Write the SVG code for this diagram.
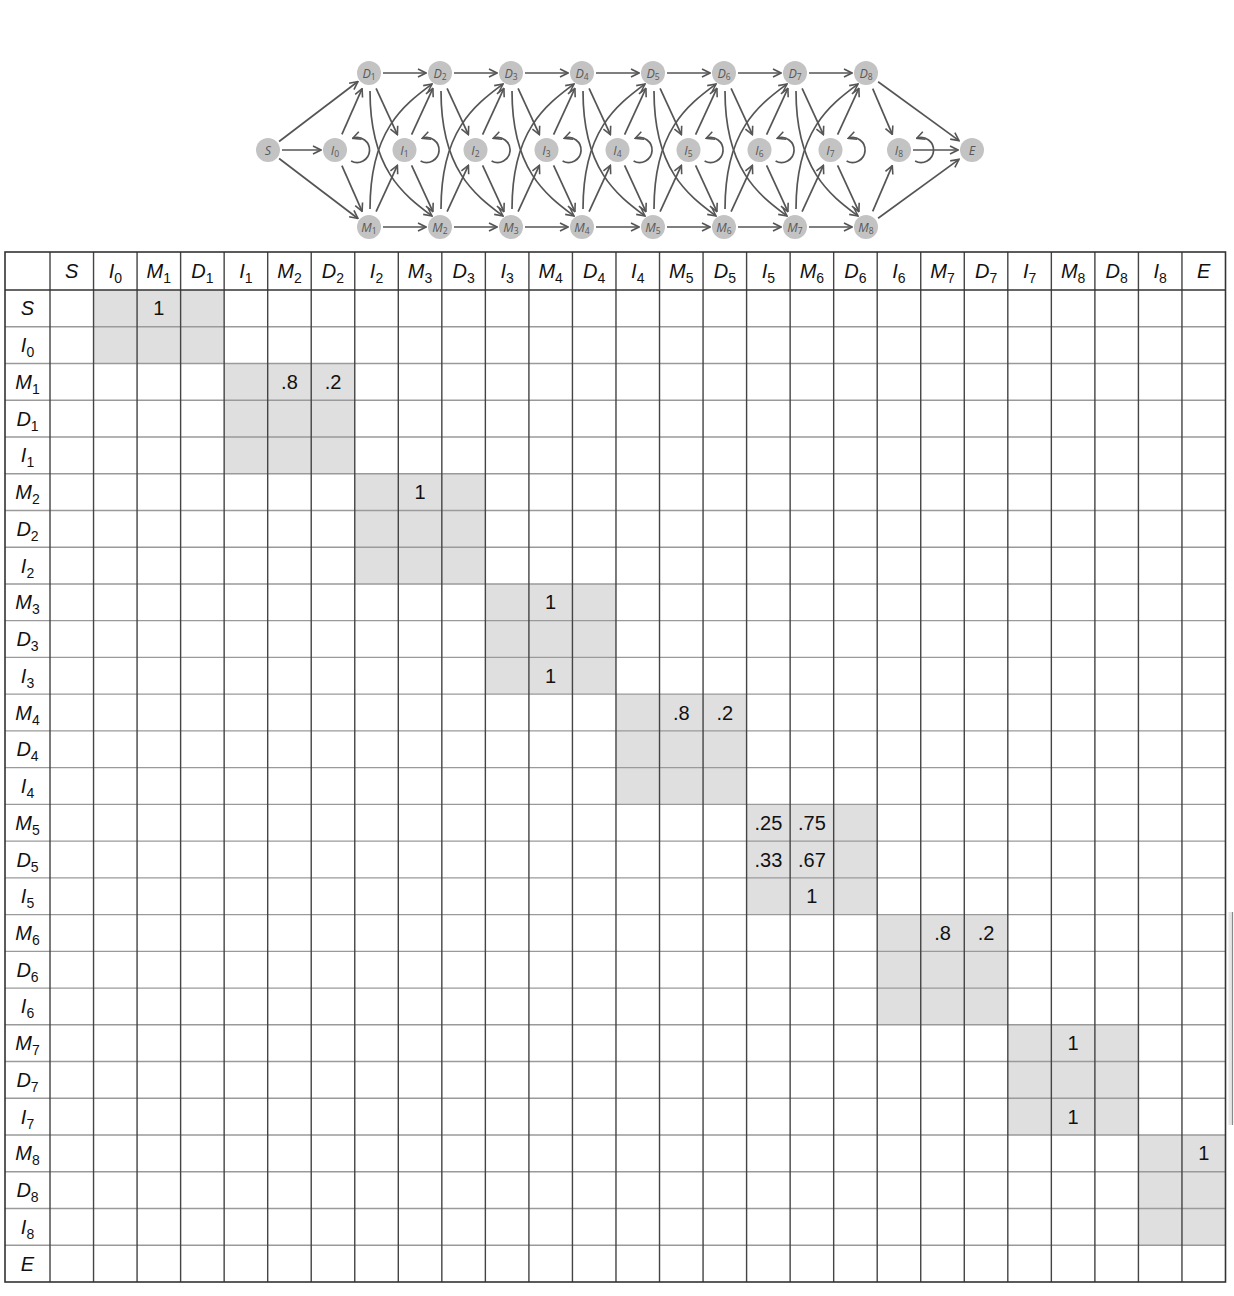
<svg xmlns="http://www.w3.org/2000/svg" width="1234" height="1296" viewBox="0 0 1234 1296">
<defs>
<marker id="ah" viewBox="0 0 10 10" refX="9" refY="5" markerWidth="10" markerHeight="10" markerUnits="userSpaceOnUse" orient="auto"><path d="M1,1 L9,5 L1,9" fill="none" stroke="#555" stroke-width="1.6"/></marker>
</defs>
<style>
.node circle{fill:#c3c3c3;stroke:none}
.node text{font-family:"Open Sans","Liberation Sans",sans-serif;font-style:italic;font-size:12.5px;fill:#585858;text-anchor:middle}
.node text tspan{font-size:8.5px;font-style:normal}
#connectors path{fill:none;stroke:#555;stroke-width:1.7;marker-end:url(#ah)}
.t{font-family:"Liberation Sans",Arial,sans-serif;font-size:20px;fill:#111;text-anchor:middle}
.lab{font-style:italic}
.s{font-size:14px;font-style:normal}
.shade{fill:#dfdfdf}
.vl{stroke:#444;stroke-width:1.4;fill:none}
.hl{stroke:#9a9a9a;stroke-width:1.4;fill:none}
.bd{stroke:#333;stroke-width:1.6;fill:none}
</style>
<rect width="1234" height="1296" fill="#fff"/>

<g id="connectors">
  <path d="M282,150H321"/>
  <path d="M279.1,141.5L357.9,81.5"/>
  <path d="M279.1,158.5L357.9,218.5"/>
  <path d="M341.9,134.4L362.1,88.6"/>
  <path d="M341.9,165.6L362.1,211.4"/>
  <path d="M351.1,161A12.5,12.5 0 1 0 352.7,138.3"/>
  <g transform="translate(369,0)">
    <path d="M14,73H57"/><path d="M14,227H57"/>
    <path d="M7.1,88.4L28.4,134.6"/><path d="M7.1,211.6L28.4,165.4"/>
    <path d="M42.6,134.6L63.9,88.4"/><path d="M42.6,165.4L63.9,211.6"/>
    <path d="M51.6,161A12.5,12.5 0 1 0 53.2,138.3"/>
    <path d="M1,91C1,170 35,195 63,216"/><path d="M1,209C1,130 35,105 63,84"/>
  </g>
  <g transform="translate(440,0)">
    <path d="M14,73H57"/><path d="M14,227H57"/>
    <path d="M7.1,88.4L28.4,134.6"/><path d="M7.1,211.6L28.4,165.4"/>
    <path d="M42.6,134.6L63.9,88.4"/><path d="M42.6,165.4L63.9,211.6"/>
    <path d="M51.6,161A12.5,12.5 0 1 0 53.2,138.3"/>
    <path d="M1,91C1,170 35,195 63,216"/><path d="M1,209C1,130 35,105 63,84"/>
  </g>
  <g transform="translate(511,0)">
    <path d="M14,73H57"/><path d="M14,227H57"/>
    <path d="M7.1,88.4L28.4,134.6"/><path d="M7.1,211.6L28.4,165.4"/>
    <path d="M42.6,134.6L63.9,88.4"/><path d="M42.6,165.4L63.9,211.6"/>
    <path d="M51.6,161A12.5,12.5 0 1 0 53.2,138.3"/>
    <path d="M1,91C1,170 35,195 63,216"/><path d="M1,209C1,130 35,105 63,84"/>
  </g>
  <g transform="translate(582,0)">
    <path d="M14,73H57"/><path d="M14,227H57"/>
    <path d="M7.1,88.4L28.4,134.6"/><path d="M7.1,211.6L28.4,165.4"/>
    <path d="M42.6,134.6L63.9,88.4"/><path d="M42.6,165.4L63.9,211.6"/>
    <path d="M51.6,161A12.5,12.5 0 1 0 53.2,138.3"/>
    <path d="M1,91C1,170 35,195 63,216"/><path d="M1,209C1,130 35,105 63,84"/>
  </g>
  <g transform="translate(653,0)">
    <path d="M14,73H57"/><path d="M14,227H57"/>
    <path d="M7.1,88.4L28.4,134.6"/><path d="M7.1,211.6L28.4,165.4"/>
    <path d="M42.6,134.6L63.9,88.4"/><path d="M42.6,165.4L63.9,211.6"/>
    <path d="M51.6,161A12.5,12.5 0 1 0 53.2,138.3"/>
    <path d="M1,91C1,170 35,195 63,216"/><path d="M1,209C1,130 35,105 63,84"/>
  </g>
  <g transform="translate(724,0)">
    <path d="M14,73H57"/><path d="M14,227H57"/>
    <path d="M7.1,88.4L28.4,134.6"/><path d="M7.1,211.6L28.4,165.4"/>
    <path d="M42.6,134.6L63.9,88.4"/><path d="M42.6,165.4L63.9,211.6"/>
    <path d="M51.6,161A12.5,12.5 0 1 0 53.2,138.3"/>
    <path d="M1,91C1,170 35,195 63,216"/><path d="M1,209C1,130 35,105 63,84"/>
  </g>
  <g transform="translate(795,0)">
    <path d="M14,73H57"/><path d="M14,227H57"/>
    <path d="M7.1,88.4L28.4,134.6"/><path d="M7.1,211.6L28.4,165.4"/>
    <path d="M42.6,134.6L63.9,88.4"/><path d="M42.6,165.4L63.9,211.6"/>
    <path d="M51.6,161A12.5,12.5 0 1 0 53.2,138.3"/>
    <path d="M1,91C1,170 35,195 63,216"/><path d="M1,209C1,130 35,105 63,84"/>
  </g>
  <path d="M872.7,88.6L892.3,134.4"/>
  <path d="M872.7,211.4L892.3,165.6"/>
  <path d="M915.1,161A12.5,12.5 0 1 0 916.7,138.3"/>
  <path d="M913,150H958"/>
  <path d="M878.1,81.8L959,140.6"/>
  <path d="M878.1,218.2L959,159.4"/>
</g>

<g id="n-S" class="node"><circle cx="268" cy="150" r="12"/><text x="268" y="154.5">S</text></g>
<g id="n-I0" class="node"><circle cx="335" cy="150" r="12"/><text x="335" y="154.5">I<tspan dy="2.5">0</tspan></text></g>
<g id="n-D1" class="node"><circle cx="369" cy="73" r="12"/><text x="369" y="77.5">D<tspan dy="2.5">1</tspan></text></g>
<g id="n-M1" class="node"><circle cx="369" cy="227" r="12"/><text x="369" y="231.5">M<tspan dy="2.5">1</tspan></text></g>
<g id="n-I1" class="node"><circle cx="404.5" cy="150" r="12"/><text x="404.5" y="154.5">I<tspan dy="2.5">1</tspan></text></g>
<g id="n-D2" class="node"><circle cx="440" cy="73" r="12"/><text x="440" y="77.5">D<tspan dy="2.5">2</tspan></text></g>
<g id="n-M2" class="node"><circle cx="440" cy="227" r="12"/><text x="440" y="231.5">M<tspan dy="2.5">2</tspan></text></g>
<g id="n-I2" class="node"><circle cx="475.5" cy="150" r="12"/><text x="475.5" y="154.5">I<tspan dy="2.5">2</tspan></text></g>
<g id="n-D3" class="node"><circle cx="511" cy="73" r="12"/><text x="511" y="77.5">D<tspan dy="2.5">3</tspan></text></g>
<g id="n-M3" class="node"><circle cx="511" cy="227" r="12"/><text x="511" y="231.5">M<tspan dy="2.5">3</tspan></text></g>
<g id="n-I3" class="node"><circle cx="546.5" cy="150" r="12"/><text x="546.5" y="154.5">I<tspan dy="2.5">3</tspan></text></g>
<g id="n-D4" class="node"><circle cx="582" cy="73" r="12"/><text x="582" y="77.5">D<tspan dy="2.5">4</tspan></text></g>
<g id="n-M4" class="node"><circle cx="582" cy="227" r="12"/><text x="582" y="231.5">M<tspan dy="2.5">4</tspan></text></g>
<g id="n-I4" class="node"><circle cx="617.5" cy="150" r="12"/><text x="617.5" y="154.5">I<tspan dy="2.5">4</tspan></text></g>
<g id="n-D5" class="node"><circle cx="653" cy="73" r="12"/><text x="653" y="77.5">D<tspan dy="2.5">5</tspan></text></g>
<g id="n-M5" class="node"><circle cx="653" cy="227" r="12"/><text x="653" y="231.5">M<tspan dy="2.5">5</tspan></text></g>
<g id="n-I5" class="node"><circle cx="688.5" cy="150" r="12"/><text x="688.5" y="154.5">I<tspan dy="2.5">5</tspan></text></g>
<g id="n-D6" class="node"><circle cx="724" cy="73" r="12"/><text x="724" y="77.5">D<tspan dy="2.5">6</tspan></text></g>
<g id="n-M6" class="node"><circle cx="724" cy="227" r="12"/><text x="724" y="231.5">M<tspan dy="2.5">6</tspan></text></g>
<g id="n-I6" class="node"><circle cx="759.5" cy="150" r="12"/><text x="759.5" y="154.5">I<tspan dy="2.5">6</tspan></text></g>
<g id="n-D7" class="node"><circle cx="795" cy="73" r="12"/><text x="795" y="77.5">D<tspan dy="2.5">7</tspan></text></g>
<g id="n-M7" class="node"><circle cx="795" cy="227" r="12"/><text x="795" y="231.5">M<tspan dy="2.5">7</tspan></text></g>
<g id="n-I7" class="node"><circle cx="830.5" cy="150" r="12"/><text x="830.5" y="154.5">I<tspan dy="2.5">7</tspan></text></g>
<g id="n-D8" class="node"><circle cx="866" cy="73" r="12"/><text x="866" y="77.5">D<tspan dy="2.5">8</tspan></text></g>
<g id="n-M8" class="node"><circle cx="866" cy="227" r="12"/><text x="866" y="231.5">M<tspan dy="2.5">8</tspan></text></g>
<g id="n-I8" class="node"><circle cx="899" cy="150" r="12"/><text x="899" y="154.5">I<tspan dy="2.5">8</tspan></text></g>
<g id="n-E" class="node"><circle cx="972" cy="150" r="12"/><text x="972" y="154.5">E</text></g>

<g id="table">
  <g id="shading">
    <rect class="shade" x="93.54" y="290" width="130.61" height="73.48"/>
    <rect class="shade" x="224.15" y="363.48" width="130.61" height="110.22"/>
    <rect class="shade" x="354.76" y="473.70" width="130.61" height="110.23"/>
    <rect class="shade" x="485.37" y="583.93" width="130.61" height="110.22"/>
    <rect class="shade" x="615.98" y="694.15" width="130.61" height="110.22"/>
    <rect class="shade" x="746.59" y="804.37" width="130.61" height="110.23"/>
    <rect class="shade" x="877.20" y="914.60" width="130.61" height="110.22"/>
    <rect class="shade" x="1007.81" y="1024.82" width="130.62" height="110.22"/>
    <rect class="shade" x="1138.43" y="1135.04" width="87.07" height="110.22"/>
  </g>
  <path class="hl" d="M5,326.74H1225.5M5,363.48H1225.5M5,400.22H1225.5M5,436.96H1225.5M5,473.70H1225.5M5,510.44H1225.5M5,547.19H1225.5M5,583.93H1225.5M5,620.67H1225.5M5,657.41H1225.5M5,694.15H1225.5M5,730.89H1225.5M5,767.63H1225.5M5,804.37H1225.5M5,841.11H1225.5M5,877.85H1225.5M5,914.60H1225.5M5,951.34H1225.5M5,988.08H1225.5M5,1024.82H1225.5M5,1061.56H1225.5M5,1098.30H1225.5M5,1135.04H1225.5M5,1171.78H1225.5M5,1208.52H1225.5M5,1245.26H1225.5"/>
  <path class="vl" d="M50,252V1282M93.54,252V1282M137.07,252V1282M180.61,252V1282M224.15,252V1282M267.69,252V1282M311.22,252V1282M354.76,252V1282M398.30,252V1282M441.83,252V1282M485.37,252V1282M528.91,252V1282M572.44,252V1282M615.98,252V1282M659.52,252V1282M703.06,252V1282M746.59,252V1282M790.13,252V1282M833.67,252V1282M877.20,252V1282M920.74,252V1282M964.28,252V1282M1007.81,252V1282M1051.35,252V1282M1094.89,252V1282M1138.43,252V1282M1181.96,252V1282"/>
  <path class="bd" d="M5,290H1225.5"/>
  <rect class="bd" x="5" y="252" width="1220.5" height="1030"/>

  <g id="header" class="t lab">
    <text x="71.77" y="278">S</text>
    <text x="115.31" y="278">I<tspan class="s" dy="5">0</tspan></text>
    <text x="158.84" y="278">M<tspan class="s" dy="5">1</tspan></text>
    <text x="202.38" y="278">D<tspan class="s" dy="5">1</tspan></text>
    <text x="245.92" y="278">I<tspan class="s" dy="5">1</tspan></text>
    <text x="289.45" y="278">M<tspan class="s" dy="5">2</tspan></text>
    <text x="332.99" y="278">D<tspan class="s" dy="5">2</tspan></text>
    <text x="376.53" y="278">I<tspan class="s" dy="5">2</tspan></text>
    <text x="420.07" y="278">M<tspan class="s" dy="5">3</tspan></text>
    <text x="463.60" y="278">D<tspan class="s" dy="5">3</tspan></text>
    <text x="507.14" y="278">I<tspan class="s" dy="5">3</tspan></text>
    <text x="550.68" y="278">M<tspan class="s" dy="5">4</tspan></text>
    <text x="594.21" y="278">D<tspan class="s" dy="5">4</tspan></text>
    <text x="637.75" y="278">I<tspan class="s" dy="5">4</tspan></text>
    <text x="681.29" y="278">M<tspan class="s" dy="5">5</tspan></text>
    <text x="724.82" y="278">D<tspan class="s" dy="5">5</tspan></text>
    <text x="768.36" y="278">I<tspan class="s" dy="5">5</tspan></text>
    <text x="811.90" y="278">M<tspan class="s" dy="5">6</tspan></text>
    <text x="855.44" y="278">D<tspan class="s" dy="5">6</tspan></text>
    <text x="898.97" y="278">I<tspan class="s" dy="5">6</tspan></text>
    <text x="942.51" y="278">M<tspan class="s" dy="5">7</tspan></text>
    <text x="986.05" y="278">D<tspan class="s" dy="5">7</tspan></text>
    <text x="1029.58" y="278">I<tspan class="s" dy="5">7</tspan></text>
    <text x="1073.12" y="278">M<tspan class="s" dy="5">8</tspan></text>
    <text x="1116.66" y="278">D<tspan class="s" dy="5">8</tspan></text>
    <text x="1160.19" y="278">I<tspan class="s" dy="5">8</tspan></text>
    <text x="1203.73" y="278">E</text>
  </g>
  <g id="rowlabels" class="t lab">
    <text x="27.5" y="315.4">S</text>
    <text x="27.5" y="352.1">I<tspan class="s" dy="5">0</tspan></text>
    <text x="27.5" y="388.9">M<tspan class="s" dy="5">1</tspan></text>
    <text x="27.5" y="425.6">D<tspan class="s" dy="5">1</tspan></text>
    <text x="27.5" y="462.3">I<tspan class="s" dy="5">1</tspan></text>
    <text x="27.5" y="499.1">M<tspan class="s" dy="5">2</tspan></text>
    <text x="27.5" y="535.8">D<tspan class="s" dy="5">2</tspan></text>
    <text x="27.5" y="572.6">I<tspan class="s" dy="5">2</tspan></text>
    <text x="27.5" y="609.3">M<tspan class="s" dy="5">3</tspan></text>
    <text x="27.5" y="646.0">D<tspan class="s" dy="5">3</tspan></text>
    <text x="27.5" y="682.8">I<tspan class="s" dy="5">3</tspan></text>
    <text x="27.5" y="719.5">M<tspan class="s" dy="5">4</tspan></text>
    <text x="27.5" y="756.3">D<tspan class="s" dy="5">4</tspan></text>
    <text x="27.5" y="793.0">I<tspan class="s" dy="5">4</tspan></text>
    <text x="27.5" y="829.7">M<tspan class="s" dy="5">5</tspan></text>
    <text x="27.5" y="866.5">D<tspan class="s" dy="5">5</tspan></text>
    <text x="27.5" y="903.2">I<tspan class="s" dy="5">5</tspan></text>
    <text x="27.5" y="940.0">M<tspan class="s" dy="5">6</tspan></text>
    <text x="27.5" y="976.7">D<tspan class="s" dy="5">6</tspan></text>
    <text x="27.5" y="1013.4">I<tspan class="s" dy="5">6</tspan></text>
    <text x="27.5" y="1050.2">M<tspan class="s" dy="5">7</tspan></text>
    <text x="27.5" y="1086.9">D<tspan class="s" dy="5">7</tspan></text>
    <text x="27.5" y="1123.7">I<tspan class="s" dy="5">7</tspan></text>
    <text x="27.5" y="1160.4">M<tspan class="s" dy="5">8</tspan></text>
    <text x="27.5" y="1197.2">D<tspan class="s" dy="5">8</tspan></text>
    <text x="27.5" y="1233.9">I<tspan class="s" dy="5">8</tspan></text>
    <text x="27.5" y="1270.6">E</text>
  </g>
  <g id="values" class="t">
    <text x="158.84" y="315.4">1</text>
    <text x="289.45" y="388.9">.8</text>
    <text x="332.99" y="388.9">.2</text>
    <text x="420.07" y="499.1">1</text>
    <text x="550.68" y="609.3">1</text>
    <text x="550.68" y="682.8">1</text>
    <text x="681.29" y="719.5">.8</text>
    <text x="724.82" y="719.5">.2</text>
    <text x="768.36" y="829.7">.25</text>
    <text x="811.90" y="829.7">.75</text>
    <text x="768.36" y="866.5">.33</text>
    <text x="811.90" y="866.5">.67</text>
    <text x="811.90" y="903.2">1</text>
    <text x="942.51" y="940.0">.8</text>
    <text x="986.05" y="940.0">.2</text>
    <text x="1073.12" y="1050.2">1</text>
    <text x="1073.12" y="1123.7">1</text>
    <text x="1203.73" y="1160.4">1</text>
  </g>
</g>
<g id="edge-mark">
  <rect x="1228.5" y="912" width="3.5" height="213" fill="#e6e6e6"/>
  <path d="M1232.5,912V1125" stroke="#8a8a8a" stroke-width="1.2" fill="none"/>
</g>
</svg>
